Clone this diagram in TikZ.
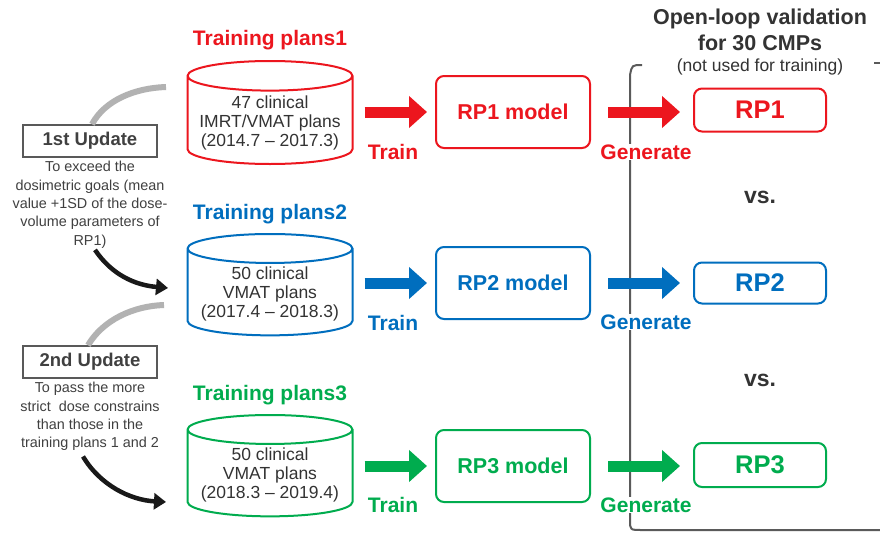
\documentclass[tikz,border=0pt]{standalone}
\usepackage{fontspec}
\setmainfont{Liberation Sans}
\usetikzlibrary{arrows.meta,shapes.geometric}
\definecolor{rpred}{RGB}{236,22,30}
\definecolor{rpblue}{RGB}{0,110,190}
\definecolor{rpgreen}{RGB}{0,172,78}
\definecolor{bracketgray}{RGB}{90,90,90}
\tikzset{
  dataset/.style={cylinder, shape border rotate=90, aspect=0.2, draw=#1, line width=2pt,
    minimum width=165pt, minimum height=102pt, anchor=north, align=center,
    font=\fontsize{17.5}{19}\selectfont, text=black!80},
  modelbox/.style={draw=#1, line width=2pt, rounded corners=8pt, minimum width=154pt,
    minimum height=72pt, text=#1, font=\fontsize{21.5}{24}\bfseries\selectfont},
  rpbox/.style={draw=#1, line width=2pt, rounded corners=8pt, minimum width=132pt,
    minimum height=43pt, text=#1, font=\fontsize{25.5}{28}\bfseries\selectfont},
  blockarrow/.style={draw=#1, line width=11pt, -{Triangle[length=18pt,width=31pt]}},
  steplabel/.style={text=#1, font=\fontsize{21}{23}\bfseries\selectfont, fill=white, inner sep=1pt},
  settitle/.style={text=#1, font=\fontsize{21}{23}\bfseries\selectfont},
  updatebox/.style={draw=black!65, line width=1.6pt, minimum width=134pt, minimum height=32pt,
    font=\fontsize{18.5}{20}\bfseries\selectfont, text=black!75},
  updatetext/.style={align=center, font=\fontsize{14.4}{18.4}\selectfont, text=black!75},
  fadearc/.style={draw=black!30, line width=6pt},
  bentarrow/.style={draw=black!90, line width=4.5pt, -{Triangle[length=12pt,width=16pt]}}
}
\begin{document}
\begin{tikzpicture}[x=1pt,y=-1pt]
\useasboundingbox[fill=white] (0,0) rectangle (880,533);
% validation bracket
\draw[bracketgray, line width=2pt] (642,65) .. controls (632,65) .. (630,75) -- (630,520)
  .. controls (630,530) .. (642,530) -- (880,530);
\draw[bracketgray, line width=2pt] (874,63) -- (880,63);
% header
\node[font=\fontsize{21.5}{26}\bfseries\selectfont, text=black!80, align=center] (head) at (760,30)
  {Open-loop validation\\for 30 CMPs};
\node[font=\fontsize{17.5}{19}\selectfont, text=black!80] (note) at (760,67) {(not used for training)};
% training sets
\node[settitle=rpred] (title1) at (270,40) {Training plans1};
\node[settitle=rpblue] (title2) at (270,214) {Training plans2};
\node[settitle=rpgreen] (title3) at (270,395) {Training plans3};
\node[dataset=rpred, minimum height=103pt] (set1) at (270,60) {47 clinical\\IMRT/VMAT plans\\(2014.7 -- 2017.3)};
\node[dataset=rpblue, minimum height=97pt] (set2) at (270,233) {50 clinical\\VMAT plans\\(2017.4 -- 2018.3)};
\node[dataset=rpgreen, minimum height=100pt] (set3) at (270,414) {50 clinical\\VMAT plans\\(2018.3 -- 2019.4)};
% models
\node[modelbox=rpred] (model1) at (513,112) {RP1 model};
\node[modelbox=rpblue] (model2) at (513,283) {RP2 model};
\node[modelbox=rpgreen] (model3) at (513,466) {RP3 model};
% generated plans
\node[rpbox=rpred] (rp1) at (760,110) {RP1};
\node[rpbox=rpblue, minimum height=41pt] (rp2) at (760,283) {RP2};
\node[rpbox=rpgreen, minimum height=44pt] (rp3) at (760,465) {RP3};
\node[font=\fontsize{23}{25}\bfseries\selectfont, text=black!80] (vs1) at (760,197) {vs.};
\node[font=\fontsize{23}{25}\bfseries\selectfont, text=black!80] (vs2) at (760,380) {vs.};
% train / generate arrows
\draw[blockarrow=rpred, shorten <=11pt, shorten >=8pt] (set1.east |- model1) -- (model1.west);
\draw[blockarrow=rpblue, shorten <=11pt, shorten >=8pt] (set2.east |- model2) -- (model2.west);
\draw[blockarrow=rpgreen, shorten <=11pt, shorten >=8pt] (set3.east |- model3) -- (model3.west);
\draw[blockarrow=rpred, shorten <=17pt, shorten >=13pt] (model1.east) -- (rp1.west |- model1);
\draw[blockarrow=rpblue, shorten <=17pt, shorten >=13pt] (model2.east) -- (rp2.west);
\draw[blockarrow=rpgreen, shorten <=17pt, shorten >=13pt] (model3.east) -- (rp3.west |- model3);
\node[steplabel=rpred] (train1) at (393,152) {Train};
\node[steplabel=rpblue] (train2) at (393,323) {Train};
\node[steplabel=rpgreen] (train3) at (393,505) {Train};
\node[steplabel=rpred] (gen1) at (646,152) {Generate};
\node[steplabel=rpblue] (gen2) at (646,322) {Generate};
\node[steplabel=rpgreen] (gen3) at (646,505) {Generate};
% updates
\node[updatebox] (upd1) at (90,141) {1st Update};
\node[updatetext, anchor=north] (why1) at (upd1.south)
  {To exceed the\\dosimetric goals (mean\\value +1SD of the dose-\\volume parameters of\\RP1)};
\node[updatebox] (upd2) at (90,362) {2nd Update};
\node[updatetext, anchor=north] (why2) at (upd2.south)
  {To pass the more\\strict\ \ dose constrains\\than those in the\\training plans 1 and 2};
\coordinate (arc1) at (166,87);
\coordinate (arc2) at (164,305);
\coordinate (tip1) at (168,288);
\coordinate (tip2) at (166,502);
\draw[fadearc] (upd1.north) ++(2,0) .. controls (105,100) and (135,88) .. (arc1);
\draw[fadearc] (upd2.north) ++(-2,0) .. controls (103,320) and (133,306) .. (arc2);
\draw[bentarrow] (why1.south) ++(5,-2) .. controls (112,275) and (135,285) .. (tip1);
\draw[bentarrow] (why2.south) ++(-7,2) .. controls (100,485) and (130,500) .. (tip2);
\end{tikzpicture}
\end{document}
